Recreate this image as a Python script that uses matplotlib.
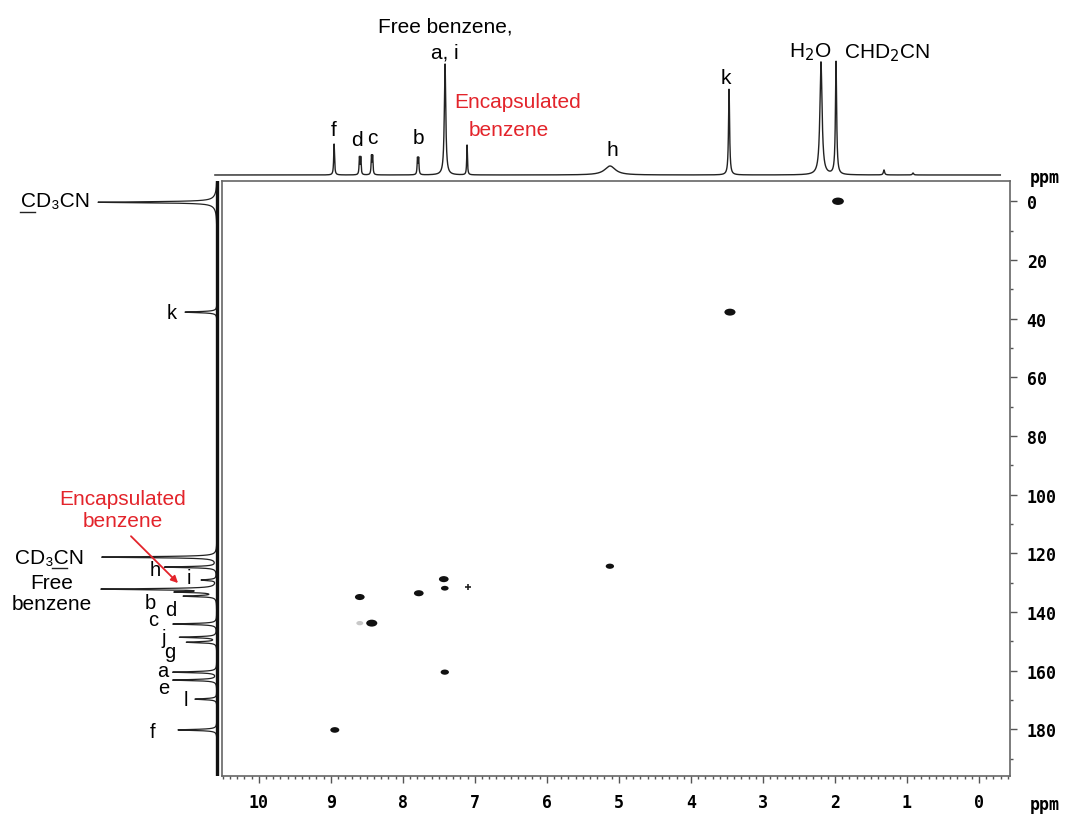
import numpy as np
import matplotlib.pyplot as plt
from matplotlib.path import Path
from matplotlib.transforms import Affine2D
from matplotlib.ticker import MultipleLocator
from matplotlib.lines import Line2D

plt.rcParams['font.family'] = ['Liberation Sans', 'DejaVu Sans']

# 1H projection (top): shift / ppm, height, half width / ppm
h_shift = [8.944, 8.592, 8.574, 8.425, 8.409, 7.786, 7.770, 7.403, 7.097,
           5.111, 3.458, 2.181, 1.972, 1.306, 0.903]
h_height = [31, 17, 17, 18, 18, 16, 16, 111, 30, 9, 86, 113, 113, 5, 2]
h_hwhm = [0.007, 0.006, 0.006, 0.006, 0.006, 0.006, 0.006, 0.012, 0.006,
          0.09, 0.009, 0.018, 0.010, 0.01, 0.01]

# 13C projection (left): shift / ppm, height, half width / ppm
c_shift = [0.34, 0.34, 37.8, 121.3, 124.7, 129.1, 132.2, 133.2, 134.6,
           144.1, 148.6, 150.3, 160.5, 163.2, 169.7, 180.2]
c_height = [115, 4, 32, 115, 52, 15, 114, 37, 32, 44, 37, 30, 44, 44, 22, 39]
c_hwhm = [0.22, 2.0, 0.22, 0.22, 0.22, 0.22, 0.22, 0.22, 0.22, 0.22, 0.22,
          0.22, 0.22, 0.22, 0.22, 0.22]

# HMBC/HSQC cross peaks: 1H ppm, 13C ppm, marker width (pt), colour
xp_h = [1.958, 3.458, 5.125, 8.597, 8.431, 8.597, 7.778, 7.431, 7.417,
        7.417, 8.944]
xp_c = [0.0, 37.8, 124.4, 134.9, 143.8, 143.8, 133.6, 128.8, 131.9,
        160.5, 180.2]
xp_size = [8.5, 8, 6, 7, 8, 5, 7, 7, 5.5, 6, 6.5]
xp_col = ['#111111'] * 5 + ['#c8c8c8'] + ['#111111'] * 5
enc_h, enc_c = 7.097, 131.5

# top labels: text, 1H ppm, height above baseline
top_labels = [('f', 8.944, 46), ('d', 8.625, 36), ('c', 8.417, 38),
              ('b', 7.778, 38), ('h', 5.083, 26), ('k', 3.5, 98),
              ('a, i', 7.40, 123), ('Free benzene,', 7.40, 149),
              ('H$_2$O', 2.33, 124), ('CHD$_2$CN', 1.26, 123)]
# left labels: text, distance from baseline, 13C ppm
left_labels = [('k', 45, 37.8), ('h', 62, 125.4), ('i', 28, 128.1),
               ('b', 67, 136.6), ('d', 46, 139.0), ('c', 64, 142.4),
               ('j', 53, 148.6), ('g', 47, 153.3), ('a', 54, 159.8),
               ('e', 53, 165.6), ('l', 31, 169.7), ('f', 64, 180.9)]

W, H = 1068, 820
red = '#e3242b'
mono = dict(family='DejaVu Sans Mono', weight='bold', size=12)


def box(x0, y0, x1, y1):
    return [x0 / W, 1 - y1 / H, (x1 - x0) / W, (y1 - y0) / H]


def lorentz(grid, pos, hgt, hw):
    out = np.zeros_like(grid)
    for p, a, w in zip(pos, hgt, hw):
        out += a / (1 + ((grid - p) / w) ** 2)
    return out


fig = plt.figure(figsize=(W / 100, H / 100), dpi=100)

# main 2D panel
ax = fig.add_axes(box(222, 182, 1010, 777))
ax.set_xlim(10.51, -0.43)
ax.set_ylim(195.9, -6.9)
ell = Path.unit_circle().transformed(Affine2D().scale(1.6, 1.0))
ax.scatter(xp_h, xp_c, s=np.array(xp_size) ** 2, marker=ell, c=xp_col,
           linewidths=0, zorder=3)
ax.plot(enc_h, enc_c, marker='+', ms=5, mew=1.2, color='#222222')
for s in ax.spines.values():
    s.set_color('#666666')
    s.set_linewidth(1.2)
ax.yaxis.tick_right()
ax.xaxis.set_minor_locator(MultipleLocator(0.1))
ax.yaxis.set_minor_locator(MultipleLocator(10))
ax.tick_params(which='both', direction='out', color='#555555', width=1)
ax.tick_params(which='major', length=5, pad=7)
ax.tick_params(which='minor', length=2.5)
ax.set_xticks(np.arange(0, 11))
ax.set_xticklabels([str(v) for v in range(0, 11)], **mono)
ax.set_yticks(np.arange(0, 181, 20))
ax.set_yticklabels([str(v) for v in range(0, 181, 20)], **mono)

# 1H projection on top
axt = fig.add_axes(box(212, 55, 1013, 182))
axt.set_xlim(10.64, -0.486)
axt.set_ylim(-6, 121)
hx = np.linspace(10.6, -0.31, 8000)
axt.plot(hx, lorentz(hx, h_shift, h_height, h_hwhm), color='#222222', lw=1.0)
axt.axis('off')
for txt, x, y in top_labels:
    axt.text(x, y, txt, ha='center', va='center', fontsize=15)
axt.text(6.40, 73, 'Encapsulated', color=red, ha='center', va='center',
         fontsize=15)
axt.text(6.52, 45, 'benzene', color=red, ha='center', va='center',
         fontsize=15)

# 13C projection on the left
axl = fig.add_axes(box(60, 182, 222, 777))
axl.set_xlim(157, -5)
axl.set_ylim(195.9, -6.9)
cy = np.linspace(-6.9, 195.9, 30000)
axl.plot(lorentz(cy, c_shift, c_height, c_hwhm), cy, color='#222222', lw=0.9)
axl.plot([0, 0], [-6.5, 195.9], color='#111111', lw=2.4)
axl.axis('off')
for txt, x, y in left_labels:
    axl.text(x, y, txt, ha='center', va='center', fontsize=14.5)
axl.text(162, -0.4, 'CD\u2083CN', ha='center', va='center', fontsize=15)
axl.text(167, 121.3, 'CD\u2083CN', ha='center', va='center', fontsize=15)
axl.text(165, 133.4, 'Free\nbenzene', ha='center', va='center',
         fontsize=15, linespacing=1.15)
axl.text(94, 105.0, 'Encapsulated\nbenzene', color=red, ha='center',
         va='center', fontsize=15, linespacing=1.2)
axl.annotate('', xy=(37, 130.8), xytext=(88, 113.5),
             arrowprops=dict(arrowstyle='-|>', color=red, lw=1.3,
                             mutation_scale=10))

# underlined carbons of the solvent labels
fig.add_artist(Line2D([20 / W, 35 / W], [1 - 213 / H, 1 - 213 / H],
                      color='#222222', lw=1))
fig.add_artist(Line2D([52 / W, 67 / W], [1 - 569 / H, 1 - 569 / H],
                      color='#222222', lw=1))

fig.text(1045 / W, 1 - 178 / H, 'ppm', ha='center', va='center', **mono)
fig.text(1045 / W, 1 - 805 / H, 'ppm', ha='center', va='center', **mono)

fig.savefig('out.png', dpi=100)
